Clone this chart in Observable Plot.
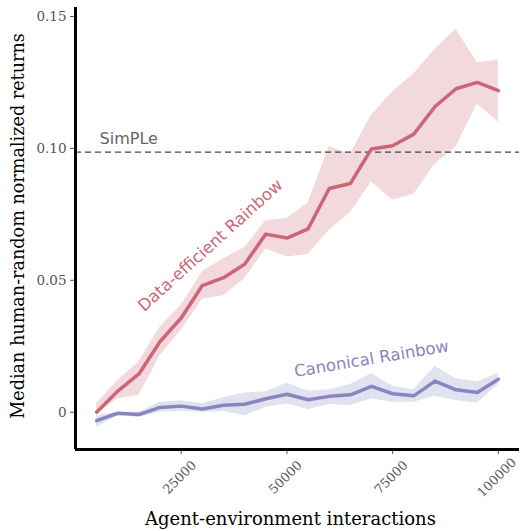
<!DOCTYPE html>
<html>
<head>
<meta charset="utf-8">
<script src="https://cdn.jsdelivr.net/npm/d3@7"></script>
<script src="https://cdn.jsdelivr.net/npm/@observablehq/plot@0.6"></script>
<style>
  html, body { margin: 0; padding: 0; background: #fff; }
</style>
</head>
<body>
<div id="chart"></div>
<script>
const steps = [5000, 10000, 15000, 20000, 25000, 30000, 35000, 40000, 45000, 50000,
               55000, 60000, 65000, 70000, 75000, 80000, 85000, 90000, 95000, 100000];

const derMed = [0.0, 0.008, 0.0145, 0.0268, 0.0357, 0.048, 0.051, 0.0561, 0.0675, 0.066,
                0.0695, 0.0848, 0.0867, 0.0998, 0.101, 0.1054, 0.1158, 0.1226, 0.125, 0.1219];
const derHi  = [0.0032, 0.012, 0.019, 0.0323, 0.0405, 0.0532, 0.0582, 0.0624, 0.0726, 0.0734,
                0.0793, 0.1006, 0.0978, 0.1126, 0.1215, 0.1282, 0.1376, 0.1452, 0.1325, 0.1335];
const derLo  = [-0.0005, 0.0051, 0.0063, 0.0215, 0.031, 0.0428, 0.0441, 0.0506, 0.0619, 0.0588,
                0.0598, 0.069, 0.0756, 0.0873, 0.0804, 0.0825, 0.094, 0.1006, 0.1168, 0.1099];

const canMed = [-0.0032, -0.0004, -0.0009, 0.0018, 0.0023, 0.0012, 0.0026, 0.003, 0.0051, 0.0068,
                0.0047, 0.006, 0.0066, 0.0098, 0.007, 0.0062, 0.0118, 0.0085, 0.0075, 0.0125];
const canHi  = [-0.0013, 0.0, 0.0, 0.0038, 0.0042, 0.0032, 0.0055, 0.0073, 0.0077, 0.0111,
                0.0079, 0.0085, 0.0105, 0.0146, 0.0098, 0.0085, 0.0173, 0.0127, 0.0114, 0.0148];
const canLo  = [-0.0057, -0.0013, -0.0019, 0.0, 0.0004, 0.0, 0.0004, -0.0013, 0.0018, 0.0032,
                0.0009, 0.0029, 0.0025, 0.0051, 0.0038, 0.0038, 0.006, 0.0044, 0.0034, 0.0105];

const simpleScore = 0.0986;

const xTicks = [25000, 50000, 75000, 100000];
const yTicks = [0, 0.05, 0.10, 0.15];

const seriesNames = ["Data-efficient Rainbow", "Canonical Rainbow"];
const baselineName = "SimPLe";
const xLabel = "Agent-environment interactions";
const yLabel = "Median human-random normalized returns";

const redColor = "#cc6677";
const blueColor = "#8686c0";

const der = steps.map((s, i) => ({step: s, med: derMed[i], lo: derLo[i], hi: derHi[i]}));
const can = steps.map((s, i) => ({step: s, med: canMed[i], lo: canLo[i], hi: canHi[i]}));

const yMin = -0.01414, yMax = 0.1534;
const serif = "DejaVu Serif";
const sans = "DejaVu Sans";

const chart = Plot.plot({
  width: 520,
  height: 531,
  marginLeft: 75,
  marginRight: 1,
  marginTop: 7,
  marginBottom: 82,
  x: {domain: [0, 105000]},
  y: {domain: [yMin, yMax]},
  marks: [
    Plot.areaY(der, {x: "step", y1: "lo", y2: "hi", fill: redColor, fillOpacity: 0.25}),
    Plot.areaY(can, {x: "step", y1: "lo", y2: "hi", fill: blueColor, fillOpacity: 0.25}),
    Plot.ruleY([simpleScore], {stroke: "#444", strokeWidth: 1.2, strokeDasharray: "6,4"}),
    Plot.line(der, {x: "step", y: "med", stroke: redColor, strokeWidth: 3.5}),
    Plot.line(can, {x: "step", y: "med", stroke: blueColor, strokeWidth: 3.5}),
    Plot.axisY({ticks: yTicks, tickSize: 5, tickPadding: 4, label: null,
      tickFormat: d => d === 0 ? "0" : d.toFixed(2),
      fontSize: 13.5, fontFamily: serif, fill: "#555", stroke: "#555"}),
    Plot.axisX({ticks: xTicks, tickSize: 5, label: null, tickFormat: () => "", stroke: "#555"}),
    Plot.text(xTicks, {x: d => d, frameAnchor: "bottom", dx: -1.5, dy: 28, rotate: -45,
      text: d => String(d), textAnchor: "middle", lineAnchor: "middle",
      fontSize: 12.8, fontFamily: serif, fill: "#555"}),
    Plot.ruleX([0], {stroke: "black", strokeWidth: 3}),
    Plot.ruleY([yMin], {stroke: "black", strokeWidth: 3}),
    Plot.text([baselineName], {x: 5700, y: 0.1036, text: d => d, textAnchor: "start",
      lineAnchor: "middle", fontSize: 16, fontFamily: sans, fill: "#666"}),
    Plot.text([seriesNames[0]], {x: 31900, y: 0.0632, text: d => d, rotate: -42,
      textAnchor: "middle", lineAnchor: "middle", fontSize: 16.5, fontFamily: sans, fill: redColor}),
    Plot.text([seriesNames[1]], {x: 70000, y: 0.0202, text: d => d, rotate: -9.5,
      textAnchor: "middle", lineAnchor: "middle", fontSize: 16.5, fontFamily: sans, fill: blueColor}),
    Plot.text([yLabel], {frameAnchor: "left", dx: -57, dy: -2.5, rotate: -90, text: d => d,
      textAnchor: "middle", lineAnchor: "middle", fontSize: 17.6, fontFamily: serif, fill: "black"}),
    Plot.text([xLabel], {frameAnchor: "bottom", dx: -7, dy: 70, text: d => d,
      textAnchor: "middle", lineAnchor: "middle", fontSize: 18, fontFamily: serif, fill: "black"})
  ]
});
document.getElementById("chart").appendChild(chart);
</script>
</body>
</html>
